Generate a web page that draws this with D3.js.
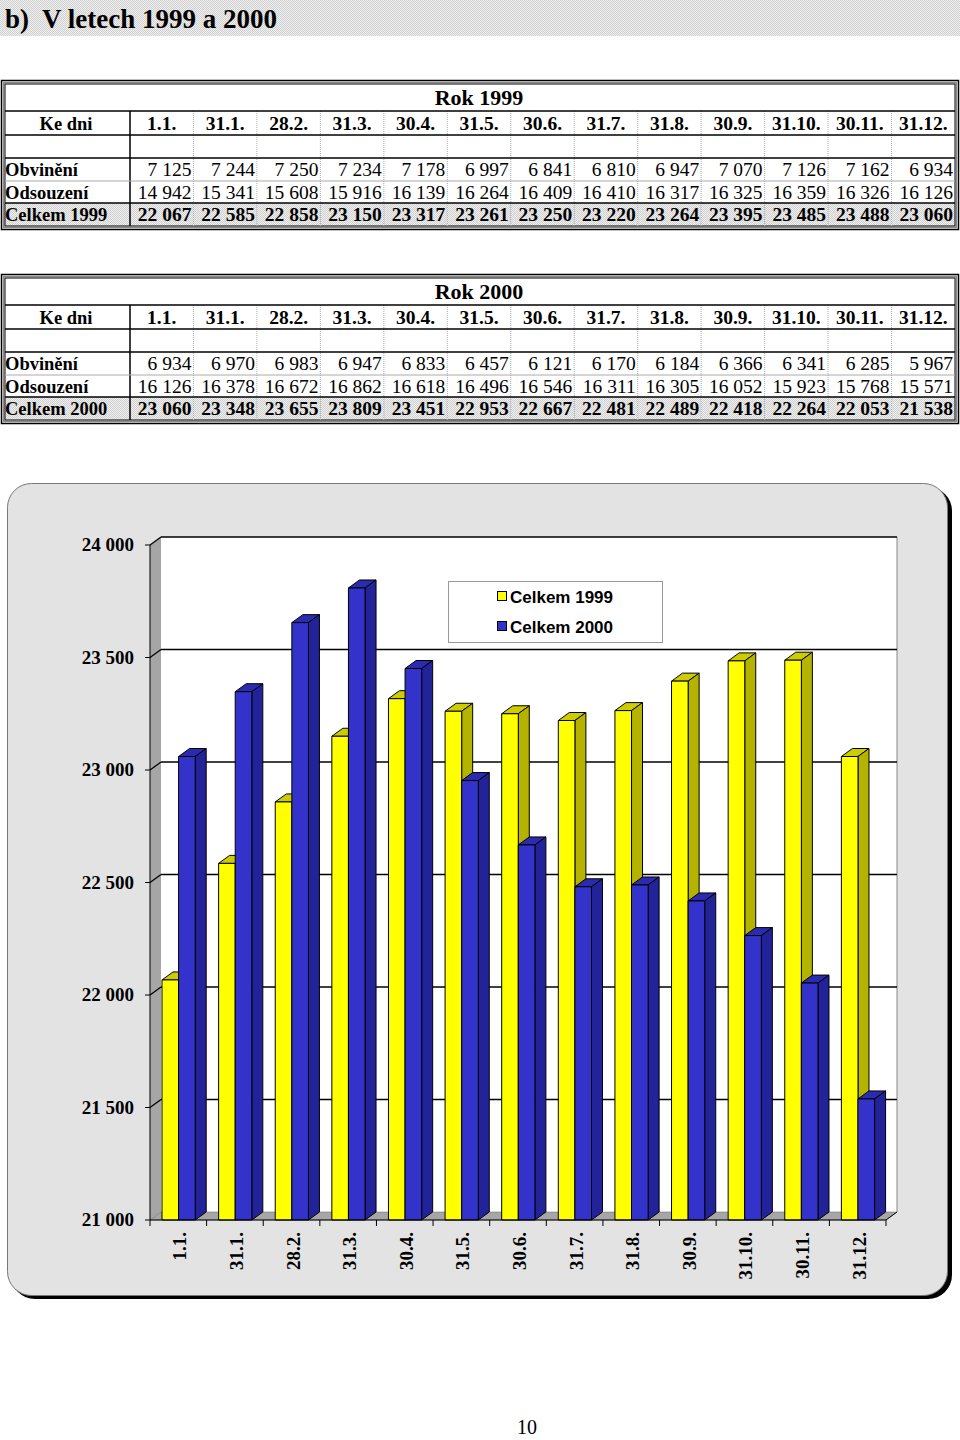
<!DOCTYPE html>
<html><head><meta charset="utf-8">
<script src="https://cdn.jsdelivr.net/npm/d3@7"></script>
<style>body{margin:0;background:#fff}svg{display:block}</style>
</head><body>
<script>
const dates = ["1.1.","31.1.","28.2.","31.3.","30.4.","31.5.","30.6.","31.7.","31.8.","30.9.","31.10.","30.11.","31.12."];
const obv1999 = [7125,7244,7250,7234,7178,6997,6841,6810,6947,7070,7126,7162,6934];
const ods1999 = [14942,15341,15608,15916,16139,16264,16409,16410,16317,16325,16359,16326,16126];
const cel1999 = [22067,22585,22858,23150,23317,23261,23250,23220,23264,23395,23485,23488,23060];
const obv2000 = [6934,6970,6983,6947,6833,6457,6121,6170,6184,6366,6341,6285,5967];
const ods2000 = [16126,16378,16672,16862,16618,16496,16546,16311,16305,16052,15923,15768,15571];
const cel2000 = [23060,23348,23655,23809,23451,22953,22667,22481,22489,22418,22264,22053,21538];
const yTicks = [21000,21500,22000,22500,23000,23500,24000];
const seriesNames = ["Celkem 1999","Celkem 2000"];

const loc = d3.formatLocale({decimal:",",thousands:" ",grouping:[3],currency:["",""]});
const fmt = loc.format(",d");
const serif = "'Liberation Serif','Times New Roman',serif";
const sans = "'Liberation Sans',Arial,sans-serif";

const svg = d3.select("body").append("svg").attr("width",960).attr("height",1440);

const defs = svg.append("defs");
const pat = defs.append("pattern").attr("id","dots").attr("width",2).attr("height",2).attr("patternUnits","userSpaceOnUse");
pat.append("rect").attr("width",2).attr("height",2).attr("fill","#f0f0f0");
pat.append("rect").attr("width",1).attr("height",1).attr("fill","#cfcfcf");
pat.append("rect").attr("x",1).attr("y",1).attr("width",1).attr("height",1).attr("fill","#cfcfcf");

// title bar
svg.append("rect").attr("x",0).attr("y",0).attr("width",960).attr("height",36).attr("fill","url(#dots)");
svg.append("text").attr("x",5).attr("y",28).attr("font-family",serif).attr("font-weight","bold")
  .attr("font-size",27).attr("xml:space","preserve").style("white-space","pre").text("b)  V letech 1999 a 2000");

function drawTable(top, year, obv, ods, cel){
  const g = svg.append("g");
  const colX = d3.scaleBand().domain(dates).range([130,955]);
  const rows = [top, top+27, top+51, top+74, top+97, top+119, top+142];
  g.append("rect").attr("x",4).attr("y",rows[5]).attr("width",951).attr("height",rows[6]-rows[5]).attr("fill","url(#dots)");
  g.append("rect").attr("x",1.5).attr("y",top-3.5).attr("width",957).attr("height",149).attr("fill","none").attr("stroke","#000").attr("stroke-width",1.5);
  g.append("rect").attr("x",3.5).attr("y",top-1.5).attr("width",953).attr("height",145).attr("fill","none").attr("stroke","#888").attr("stroke-width",1.5);
  g.append("rect").attr("x",5).attr("y",top).attr("width",950).attr("height",142).attr("fill","none").attr("stroke","#000").attr("stroke-width",1);
  dates.forEach((d,i)=>{ if(i>0) g.append("line").attr("x1",colX(d)).attr("x2",colX(d)).attr("y1",rows[1]).attr("y2",rows[6])
      .attr("stroke","#aaa").attr("stroke-width",1).attr("stroke-dasharray","1,1"); });
  g.append("line").attr("x1",130).attr("x2",130).attr("y1",rows[1]).attr("y2",rows[6]).attr("stroke","#000").attr("stroke-width",1.5);
  [1,2,3,5].forEach(r=>g.append("line").attr("x1",5).attr("x2",955).attr("y1",rows[r]).attr("y2",rows[r]).attr("stroke","#000").attr("stroke-width",1.5));
  g.append("line").attr("x1",5).attr("x2",955).attr("y1",rows[4]).attr("y2",rows[4]).attr("stroke","#aaa").attr("stroke-width",1);
  g.append("text").attr("x",479).attr("y",rows[0]+21).attr("text-anchor","middle").attr("font-family",serif)
    .attr("font-weight","bold").attr("font-size",22).text("Rok "+year);
  g.append("text").attr("x",66).attr("y",rows[1]+19).attr("text-anchor","middle").attr("font-family",serif)
    .attr("font-weight","bold").attr("font-size",18.5).text("Ke dni");
  dates.forEach(d=>g.append("text").attr("x",colX(d)+colX.bandwidth()/2).attr("y",rows[1]+19).attr("text-anchor","middle")
    .attr("font-family",serif).attr("font-weight","bold").attr("font-size",19.5).text(d));
  const data = [["Obvinění",obv,false],["Odsouzení",ods,false],["Celkem "+year,cel,true]];
  data.forEach((row,k)=>{
    const yy = rows[3+k]+18;
    g.append("text").attr("x",5).attr("y",yy).attr("font-family",serif).attr("font-weight","bold").attr("font-size",18.5).text(row[0]);
    row[1].forEach((v,i)=>g.append("text").attr("x",colX(dates[i])+colX.bandwidth()-2).attr("y",yy).attr("text-anchor","end")
      .attr("font-family",serif).attr("font-weight",row[2]?"bold":"normal").attr("font-size",19.5).text(fmt(v)));
  });
}
drawTable(84,1999,obv1999,ods1999,cel1999);
drawTable(278,2000,obv2000,ods2000,cel2000);

// chart panel
svg.append("rect").attr("x",11).attr("y",487).attr("width",941).attr("height",812).attr("rx",24).attr("fill","#000");
svg.append("rect").attr("x",7.5).attr("y",483.5).attr("width",940).attr("height",812).attr("rx",24).attr("fill","#e3e3e3").attr("stroke","#777");

const y = d3.scaleLinear().domain([21000,24000]).range([1220,545]);
const x = d3.scaleBand().domain(dates).range([150,886]);
const DX = 11, DY = -8;
const x0 = 150, x1 = 886, yb = y(21000), yt = y(24000);
const poly = pts => pts.map(p=>p.join(",")).join(" ");

svg.append("polygon").attr("points",poly([[x0+DX,yt+DY],[x1+DX,yt+DY],[x1+DX,yb+DY],[x0+DX,yb+DY]])).attr("fill","#fff");
svg.append("line").attr("x1",x1+DX).attr("x2",x1+DX).attr("y1",yt+DY).attr("y2",yb+DY).attr("stroke","#888");
svg.append("polygon").attr("points",poly([[x0,yt],[x0+DX,yt+DY],[x0+DX,yb+DY],[x0,yb]])).attr("fill","#a6a6a6");
svg.append("polygon").attr("points",poly([[x0,yb],[x1,yb],[x1+DX,yb+DY],[x0+DX,yb+DY]])).attr("fill","#a6a6a6").attr("stroke","#666").attr("stroke-width",0.5);
yTicks.forEach(t=>{
  const yy = y(t);
  if(t>21000){
    svg.append("line").attr("x1",x0+DX).attr("x2",x1+DX).attr("y1",yy+DY).attr("y2",yy+DY).attr("stroke","#000").attr("stroke-width",1.5);
    svg.append("line").attr("x1",x0).attr("x2",x0+DX).attr("y1",yy).attr("y2",yy+DY).attr("stroke","#000").attr("stroke-width",1.2);
  }
  svg.append("line").attr("x1",x0-5).attr("x2",x0).attr("y1",yy).attr("y2",yy).attr("stroke","#000");
  svg.append("text").attr("x",134).attr("y",yy+6).attr("text-anchor","end").attr("font-family",serif)
    .attr("font-weight","bold").attr("font-size",19).text(fmt(t));
});
svg.append("line").attr("x1",x0).attr("x2",x0).attr("y1",yt).attr("y2",yb).attr("stroke","#000");

const bw = 16.6, off = 12;
const colors = [
  {front:"#ffff00", side:"#b3b300", top:"#cccc00"},
  {front:"#3333cc", side:"#222299", top:"#2b2bb0"}
];
function bar(bx, v, c){
  const yy = y(v);
  const g = svg.append("g").attr("stroke","#000").attr("stroke-width",1).attr("stroke-linejoin","round");
  g.append("polygon").attr("points",poly([[bx,yy],[bx+bw,yy],[bx+bw+DX,yy+DY],[bx+DX,yy+DY]])).attr("fill",c.top);
  g.append("polygon").attr("points",poly([[bx+bw,yy],[bx+bw+DX,yy+DY],[bx+bw+DX,yb+DY],[bx+bw,yb]])).attr("fill",c.side);
  g.append("rect").attr("x",bx).attr("y",yy).attr("width",bw).attr("height",yb-yy).attr("fill",c.front);
}
dates.forEach((d,i)=>{
  const bx = x(d)+off;
  bar(bx, cel1999[i], colors[0]);
  bar(bx+bw, cel2000[i], colors[1]);
});

svg.append("line").attr("x1",x0).attr("x2",x1).attr("y1",yb).attr("y2",yb).attr("stroke","#000").attr("stroke-width",1.2);
svg.append("line").attr("x1",x1).attr("x2",x1+DX).attr("y1",yb).attr("y2",yb+DY).attr("stroke","#000");
dates.concat([null]).forEach(d=>{
  const xx = d===null ? x1 : x(d);
  svg.append("line").attr("x1",xx).attr("x2",xx).attr("y1",yb).attr("y2",yb+6).attr("stroke","#000");
});
dates.forEach(d=>{
  const cx = x(d)+x.bandwidth()/2+8, cy = 1232;
  svg.append("text").attr("transform",`translate(${cx},${cy}) rotate(-90)`).attr("text-anchor","end")
    .attr("font-family",serif).attr("font-weight","bold").attr("font-size",19).text(d);
});

svg.append("rect").attr("x",448.5).attr("y",581.5).attr("width",214).attr("height",61).attr("fill","#fff").attr("stroke","#999");
seriesNames.forEach((s,k)=>{
  const ly = 591 + k*30;
  svg.append("rect").attr("x",497.5).attr("y",ly+0.5).attr("width",9).attr("height",9).attr("fill",colors[k].front).attr("stroke","#000");
  svg.append("text").attr("x",510).attr("y",ly+12).attr("font-family",sans).attr("font-weight","bold").attr("font-size",17).text(s);
});

svg.append("text").attr("x",527).attr("y",1434).attr("text-anchor","middle").attr("font-family",serif).attr("font-size",20).text("10");
</script>
</body></html>
